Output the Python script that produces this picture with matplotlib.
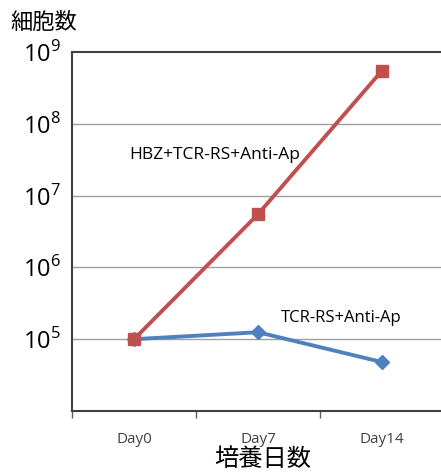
import matplotlib.pyplot as plt
from matplotlib.ticker import FixedLocator, NullLocator

days = ['Day0', 'Day7', 'Day14']
hbz_counts = [1.0e5, 5.5e6, 5.5e8]
tcr_counts = [1.0e5, 1.25e5, 4.8e4]
decades = [1e5, 1e6, 1e7, 1e8, 1e9]

plt.rcParams['font.family'] = ['Open Sans', 'Noto Sans CJK JP', 'DejaVu Sans']
plt.rcParams['mathtext.fontset'] = 'custom'
plt.rcParams['mathtext.rm'] = 'Open Sans'

fig = plt.figure(figsize=(4.41, 4.73), dpi=100)
ax = fig.add_axes([72 / 441, 62 / 473, 372 / 441, 359 / 473])

x = list(range(len(days)))
ax.plot(x, tcr_counts, color='#4F81BD', lw=2.8, marker='D', ms=7, zorder=3)
ax.plot(x, hbz_counts, color='#C0504D', lw=2.8, marker='s', ms=9, zorder=4)

ax.set_yscale('log')
ax.set_ylim(1e4, 1e9)
ax.set_xlim(-0.5, 2.5)
ax.yaxis.set_major_locator(FixedLocator(decades))
ax.yaxis.set_minor_locator(NullLocator())
ax.set_yticklabels([r'$10^{%d}$' % k for k in range(5, 10)], fontsize=17)
ax.tick_params(axis='y', length=0, pad=8)
for d in decades[:-1]:
    ax.axhline(d, color='#A0A0A0', lw=1, zorder=1)

ax.set_xticks(x)
ax.set_xticklabels(days, fontsize=11, color='#404040')
ax.set_xticks([-0.5, 0.5, 1.5, 2.5], minor=True)
ax.tick_params(axis='x', which='major', length=0, pad=15)
ax.tick_params(axis='x', which='minor', length=5, width=1, color='#606060', direction='out')

for side in ['left', 'bottom', 'top']:
    ax.spines[side].set_color('#404040')
    ax.spines[side].set_linewidth(1.5)
ax.spines['right'].set_visible(False)

ax.text(0.65, 3.7e7, 'HBZ+TCR-RS+Anti-Ap', fontsize=12.5, ha='center', va='center')
ax.text(1.67, 2.0e5, 'TCR-RS+Anti-Ap', fontsize=12, ha='center', va='center')

fig.text(10 / 441, 1 - 22 / 473, '細胞数', fontsize=16, ha='left', va='center',
         family=['Noto Sans CJK JP'])
fig.text(263 / 441, 1 - 459 / 473, '培養日数', fontsize=17.5, ha='center', va='center',
         family=['Noto Sans CJK JP'])

fig.savefig('out.png', dpi=100)
